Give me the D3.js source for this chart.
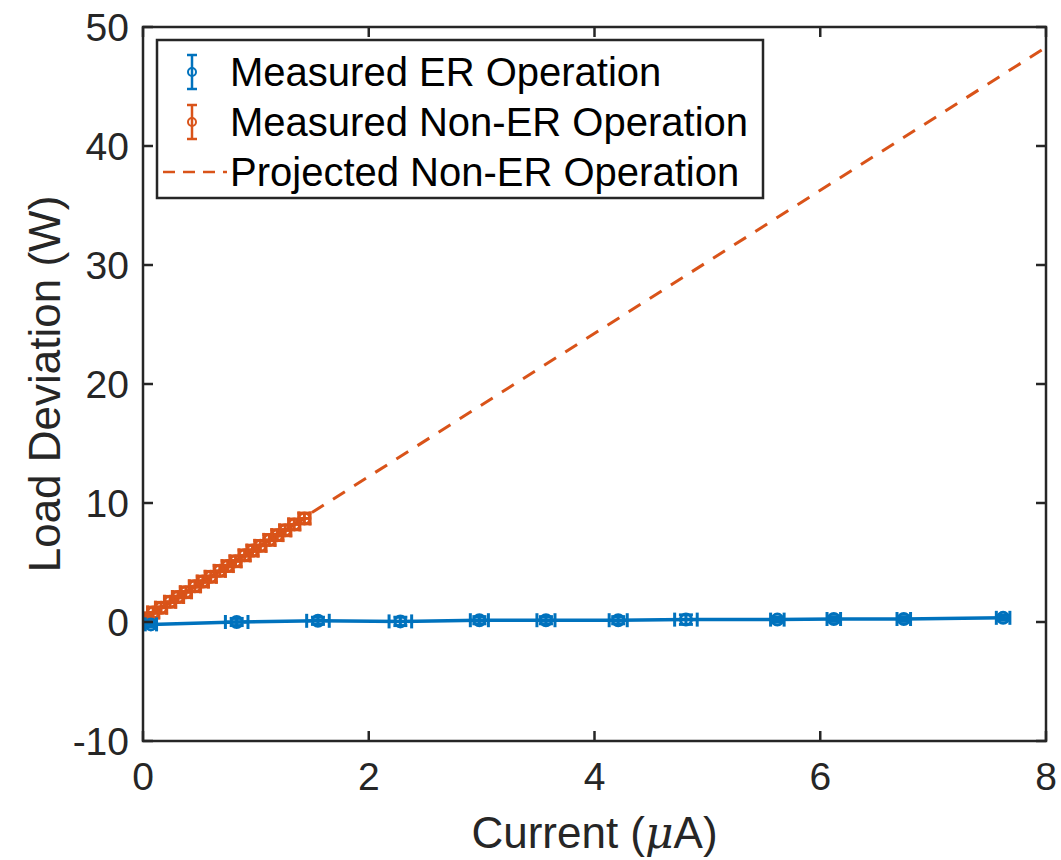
<!DOCTYPE html>
<html><head><meta charset="utf-8">
<script src="https://cdn.jsdelivr.net/npm/d3@7"></script>
<style>body{margin:0;background:#fff}svg{display:block}text{font-family:"Liberation Sans",Arial,sans-serif;fill:#262626}</style>
</head><body><svg id="c" width="1061" height="860"></svg>
<script>
const erX = [0.07,0.83,1.55,2.28,2.98,3.57,4.21,4.81,5.62,6.12,6.74,7.62];
const erY = [-0.2,0.0,0.1,0.05,0.15,0.15,0.15,0.2,0.2,0.25,0.25,0.35];
const erXErr = [0.05,0.1,0.1,0.1,0.08,0.08,0.08,0.1,0.06,0.06,0.06,0.06];
const erYErr = [0.2,0.3,0.3,0.35,0.3,0.3,0.3,0.4,0.2,0.2,0.2,0.2];
const nerX = [0.02,0.09,0.16,0.24,0.31,0.38,0.46,0.53,0.60,0.68,0.75,0.82,0.90,0.97,1.04,1.12,1.19,1.26,1.34,1.43];
const nerY = [0.3,0.8,1.2,1.7,2.1,2.5,3.0,3.4,3.8,4.3,4.7,5.1,5.6,6.0,6.4,6.9,7.3,7.7,8.2,8.7];
const nerXErr = [0.05,0.05,0.05,0.05,0.05,0.05,0.05,0.05,0.05,0.05,0.05,0.05,0.05,0.05,0.05,0.05,0.05,0.05,0.05,0.05];
const nerYErr = [0.45,0.45,0.45,0.45,0.45,0.45,0.45,0.45,0.45,0.45,0.45,0.45,0.45,0.45,0.45,0.45,0.45,0.45,0.45,0.45];
const projX = [0, 8];
const projY = [0.2, 48.3];
const xTicks = [0,2,4,6,8];
const yTicks = [-10,0,10,20,30,40,50];
const legendLabels = ["Measured ER Operation","Measured Non-ER Operation","Projected Non-ER Operation"];
const blue = "#0072BD", orange = "#D95319", axc = "#262626";

const L=143,R=1046,T=27,B=741;
const x = d3.scaleLinear().domain([0,8]).range([L,R]);
const y = d3.scaleLinear().domain([-10,50]).range([B,T]);
const svg = d3.select("#c");
svg.append("defs").append("clipPath").attr("id","cp").append("rect").attr("x",L).attr("y",T).attr("width",R-L).attr("height",B-T);
const g = svg.append("g").attr("clip-path","url(#cp)");

function series(xs,ys,xe,ye,color,cap){
  const pts = xs.map((v,i)=>({x:v,y:ys[i],xe:xe[i],ye:ye[i]}));
  g.append("path").datum(pts).attr("fill","none").attr("stroke",color).attr("stroke-width",3.5)
   .attr("d",d3.line().x(d=>x(d.x)).y(d=>y(d.y)));
  const eb = g.append("g").attr("stroke",color).attr("stroke-width",3).attr("fill","none");
  pts.forEach(d=>{
    const cx=x(d.x), cy=y(d.y), y1=y(d.y+d.ye), y2=y(d.y-d.ye), x1=x(d.x-d.xe), x2=x(d.x+d.xe);
    eb.append("line").attr("x1",cx).attr("x2",cx).attr("y1",y1).attr("y2",y2);
    eb.append("line").attr("x1",cx-cap).attr("x2",cx+cap).attr("y1",y1).attr("y2",y1);
    eb.append("line").attr("x1",cx-cap).attr("x2",cx+cap).attr("y1",y2).attr("y2",y2);
    eb.append("line").attr("x1",x1).attr("x2",x2).attr("y1",cy).attr("y2",cy);
    eb.append("line").attr("x1",x1).attr("x2",x1).attr("y1",cy-cap).attr("y2",cy+cap);
    eb.append("line").attr("x1",x2).attr("x2",x2).attr("y1",cy-cap).attr("y2",cy+cap);
    eb.append("circle").attr("cx",cx).attr("cy",cy).attr("r",5.5).attr("fill","none");
  });
}
g.append("path").datum(projX.map((v,i)=>[v,projY[i]])).attr("fill","none").attr("stroke",orange)
 .attr("stroke-width",3).attr("stroke-dasharray","14,11").attr("d",d3.line().x(d=>x(d[0])).y(d=>y(d[1])));
series(nerX,nerY,nerXErr,nerYErr,orange,7);
series(erX,erY,erXErr,erYErr,blue,7);

const ax = svg.append("g");
ax.append("rect").attr("x",L).attr("y",T).attr("width",R-L).attr("height",B-T).attr("fill","none").attr("stroke",axc).attr("stroke-width",2.5);
const tl=10;
xTicks.forEach(t=>{
  ax.append("line").attr("x1",x(t)).attr("x2",x(t)).attr("y1",B).attr("y2",B-tl).attr("stroke",axc).attr("stroke-width",2.5);
  ax.append("line").attr("x1",x(t)).attr("x2",x(t)).attr("y1",T).attr("y2",T+tl).attr("stroke",axc).attr("stroke-width",2.5);
  ax.append("text").attr("x",x(t)).attr("y",790).attr("text-anchor","middle").attr("font-size",39).text(t);
});
yTicks.forEach(t=>{
  ax.append("line").attr("x1",L).attr("x2",L+tl).attr("y1",y(t)).attr("y2",y(t)).attr("stroke",axc).attr("stroke-width",2.5);
  ax.append("line").attr("x1",R).attr("x2",R-tl).attr("y1",y(t)).attr("y2",y(t)).attr("stroke",axc).attr("stroke-width",2.5);
  ax.append("text").attr("x",L-14).attr("y",y(t)+14).attr("text-anchor","end").attr("font-size",39).text(t);
});
const xl = ax.append("text").attr("x",(L+R)/2).attr("y",848).attr("text-anchor","middle").attr("font-size",44);
xl.append("tspan").text("Current (");
xl.append("tspan").attr("font-family","'DejaVu Serif',serif").attr("font-style","italic").text("μ");
xl.append("tspan").text("A)");
ax.append("text").attr("transform",`translate(60,${(T+B)/2}) rotate(-90)`).attr("text-anchor","middle").attr("font-size",44).text("Load Deviation (W)");

const lg = svg.append("g");
lg.append("rect").attr("x",157).attr("y",40).attr("width",606).attr("height",158).attr("fill","#fff").attr("stroke",axc).attr("stroke-width",2.5);
const rows=[72,122,172];
[blue,orange].forEach((c,i)=>{
  const cy=rows[i], cx=192;
  lg.append("line").attr("x1",cx).attr("x2",cx).attr("y1",cy-17).attr("y2",cy+17).attr("stroke",c).attr("stroke-width",2.5);
  lg.append("line").attr("x1",cx-5).attr("x2",cx+5).attr("y1",cy-17).attr("y2",cy-17).attr("stroke",c).attr("stroke-width",2.5);
  lg.append("line").attr("x1",cx-5).attr("x2",cx+5).attr("y1",cy+17).attr("y2",cy+17).attr("stroke",c).attr("stroke-width",2.5);
  lg.append("circle").attr("cx",cx).attr("cy",cy).attr("r",4).attr("fill","none").attr("stroke",c).attr("stroke-width",2);
});
lg.append("line").attr("x1",163).attr("x2",227).attr("y1",rows[2]).attr("y2",rows[2]).attr("stroke",orange).attr("stroke-width",2.5).attr("stroke-dasharray","12,8");
legendLabels.forEach((s,i)=>{
  lg.append("text").attr("x",230).attr("y",rows[i]+14).attr("font-size",40).style("fill","#000").text(s);
});
</script></body></html>
